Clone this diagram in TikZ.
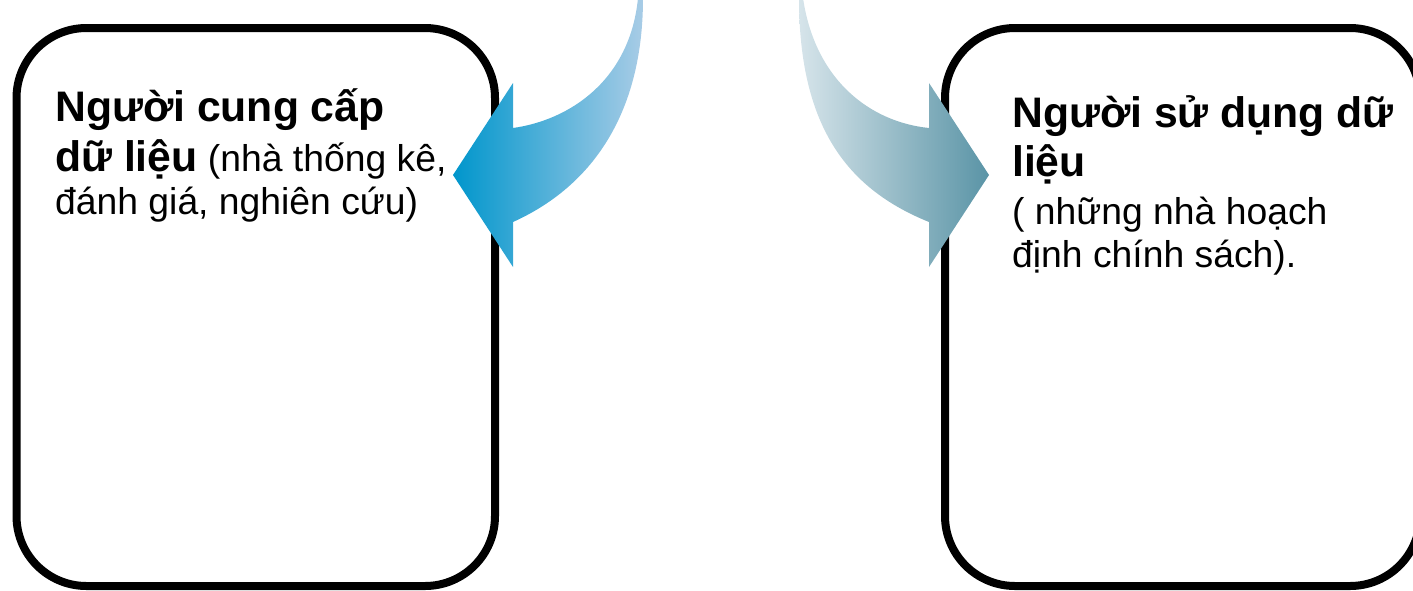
\documentclass[tikz,border=0pt]{standalone}
\usepackage{fontspec}
\setmainfont{Liberation Sans}
\usepackage{tikz}
\usetikzlibrary{positioning}

\newcommand{\headfont}{\fontsize{42.7}{49}\selectfont\bfseries}
\newcommand{\bodyfont}{\fontsize{37.3}{43}\selectfont}

\definecolor{supplierTip}{HTML}{0096CC}
\definecolor{supplierTail}{HTML}{A8CCE6}
\definecolor{userTail}{HTML}{D6E4EA}
\definecolor{userTip}{HTML}{5A94A6}

\tikzset{
    databox/.style={draw, line width=8pt, rounded corners=70pt, minimum width=#1, minimum height=558pt, inner sep=0pt},
    boxtext/.style={anchor=base west, align=left, inner sep=0pt, font=\bodyfont},
}

\begin{document}
\begin{tikzpicture}[x=1pt, y=-1pt]
    \useasboundingbox (0,0) rectangle (1413,590);
    \clip (0,0) rectangle (1413,590);

    % the two boxes
    \node[databox=478.5pt] (supplier) at (255.75, 307) {};
    \node[databox=475pt] (user) at (1182.5, 307) {};

    \node[boxtext] (supplierText) at (55, 214)
        {{\headfont Người cung cấp}\\[7pt]{\headfont dữ liệu} (nhà thống kê,\\đánh giá, nghiên cứu)};
    \node[boxtext] (userText) at (1012, 267)
        {{\headfont Người sử dụng dữ}\\[6pt]{\headfont liệu}\\[5pt]( những nhà hoạch\\định chính sách).};

    % curved arrow into the left box
    \shade[left color=supplierTip, right color=supplierTail]
        (643, -2) .. controls (643, 110) and (595, 185) .. (513, 222)
        -- (513, 267) -- (453, 175) -- (513, 83) -- (513, 128)
        .. controls (570, 120) and (630, 80) .. (638, -2) -- cycle;

    % curved arrow into the right box
    \shade[left color=userTail, right color=userTip]
        (799, -2) .. controls (799, 130) and (850, 190) .. (929, 222)
        -- (929, 267) -- (989, 175) -- (929, 83) -- (929, 128)
        .. controls (870, 122) and (815, 80) .. (803, -2) -- cycle;
\end{tikzpicture}
\end{document}
